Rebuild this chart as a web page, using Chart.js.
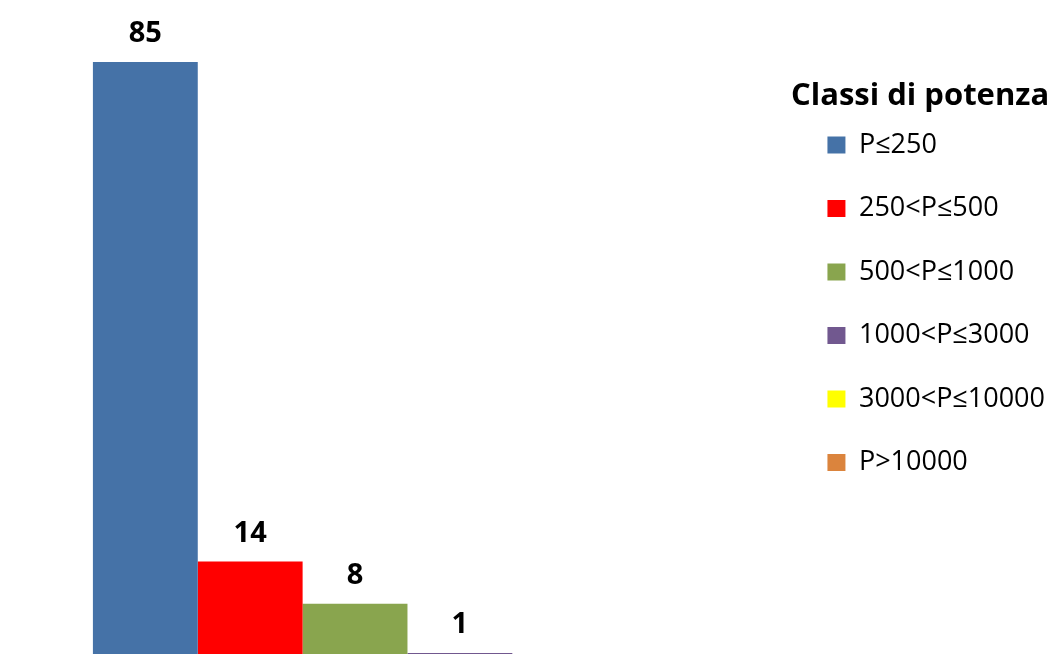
<!DOCTYPE html>
<html>
<head>
<meta charset="utf-8">
<script src="https://cdn.jsdelivr.net/npm/chart.js@4"></script>
<style>
  html, body { margin: 0; padding: 0; background: #fff; overflow: hidden; }
  #wrap { width: 1055px; height: 660px; position: relative; }
</style>
</head>
<body>
<div id="wrap"><canvas id="myChart"></canvas></div>
<script>
var categories = ['Classi di potenza'];
var seriesNames = ['P≤250', '250<P≤500', '500<P≤1000', '1000<P≤3000', '3000<P≤10000', 'P>10000'];
var seriesValues = [85, 14, 8, 1, 0, 0];
var seriesColors = ['#4572A7', '#FF0000', '#89A54E', '#71588F', '#FFFF00', '#DB843D'];

var datasets = [];
for (var i = 0; i < seriesNames.length; i++) {
  datasets.push({
    label: seriesNames[i],
    data: [seriesValues[i]],
    backgroundColor: seriesColors[i],
    borderWidth: 0,
    categoryPercentage: 0.8203,
    barPercentage: 1.0
  });
}

// value labels above each bar
var valueLabels = {
  id: 'valueLabels',
  afterDatasetsDraw: function(chart) {
    var ctx = chart.ctx;
    ctx.save();
    ctx.font = 'bold 29px "Open Sans"';
    ctx.fillStyle = '#000';
    ctx.textAlign = 'center';
    ctx.textBaseline = 'alphabetic';
    chart.data.datasets.forEach(function(ds, i) {
      var v = ds.data[0];
      if (!v) return;
      var bar = chart.getDatasetMeta(i).data[0];
      ctx.fillText(String(v), bar.x, bar.y - 19.5);
    });
    ctx.restore();
  }
};

var ctx = document.getElementById('myChart').getContext('2d');
var myChart = new Chart(ctx, {
  type: 'bar',
  data: {
    labels: categories,
    datasets: datasets
  },
  options: {
    responsive: true,
    maintainAspectRatio: false,
    animation: false,
    layout: { padding: { left: 24, right: 0, top: 0, bottom: 0 } },
    scales: {
      x: { display: false },
      y: { display: false, min: 0, max: 93.8 }
    },
    plugins: {
      tooltip: { enabled: false },
      legend: {
        position: 'right',
        align: 'start',
        title: {
          display: true,
          text: 'Classi di potenza',
          position: 'start',
          color: '#000',
          font: { family: 'Open Sans', size: 31, weight: 'bold' },
          padding: { top: 80.5, bottom: -22.7 }
        },
        labels: {
          color: '#000',
          font: { family: 'Open Sans', size: 27 },
          boxWidth: 18,
          boxHeight: 17,
          padding: 36.5
        }
      }
    }
  },
  plugins: [valueLabels]
});
</script>
</body>
</html>
